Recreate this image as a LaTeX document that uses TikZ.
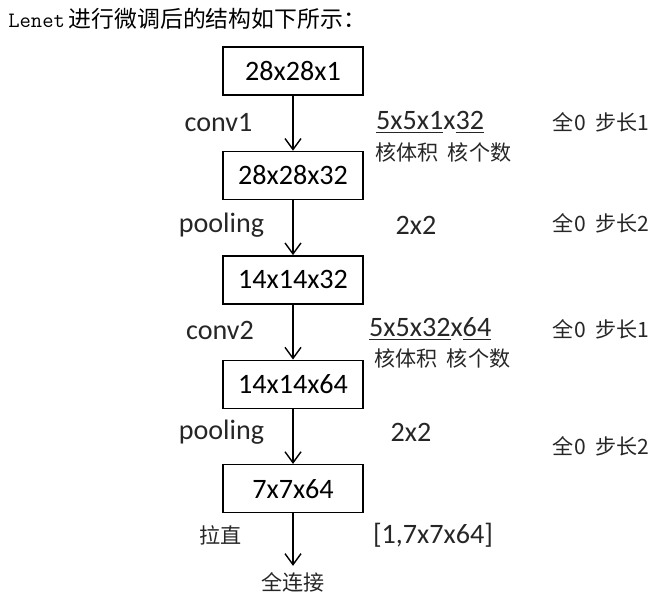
\documentclass[tikz,border=0pt]{standalone}
\usepackage{fontspec}
\setmainfont{Carlito}
\newfontfamily\cjk{Noto Sans CJK SC}
\usetikzlibrary{arrows.meta,positioning}

\begin{document}
\begin{tikzpicture}[>={Straight Barb[length=2.2mm,width=3.2mm]},
  layer/.style={draw, line width=0.8pt, minimum width=2.8cm, minimum height=0.96cm, font=\fontsize{16}{19}\selectfont},
  op/.style={font=\fontsize{16}{19}\selectfont, text=black!85},
  note/.style={font=\cjk\fontsize{12}{14}\selectfont, text=black!85},
  flow/.style={->, line width=0.8pt}]
  \useasboundingbox (0,0) rectangle (13.32,-12.06);

  \node[anchor=west, inner sep=0pt] (title) at (0.16,-0.38)
    {{\ttfamily\fontsize{12.5}{14}\selectfont Lenet} {\cjk\fontsize{13}{15}\selectfont 进行微调后的结构如下所示：}};

  % layers
  \node[layer] (in1) at (5.86,-1.42) {28x28x1};
  \node[layer, below=1.1cm of in1] (c1) {28x28x32};
  \node[layer, below=1.1cm of c1] (p1) {14x14x32};
  \node[layer, below=1.1cm of p1] (c2) {14x14x64};
  \node[layer, below=1.1cm of c2] (p2) {7x7x64};
  \node[note, below=1.05cm of p2] (fc) {全连接};

  \draw[flow] (in1) -- (c1);
  \draw[flow] (c1) -- (p1);
  \draw[flow] (p1) -- (c2);
  \draw[flow] (c2) -- (p2);
  \draw[flow] (p2) -- (fc);

  % operations on the left
  \node[op] (conv1) at (4.37,-2.46) {conv1};
  \node[op] (pool1) at (4.43,-4.50) {pooling};
  \node[op] (conv2) at (4.40,-6.60) {conv2};
  \node[op] (pool2) at (4.43,-8.64) {pooling};
  \node[note] (flat) at (4.41,-10.70) {拉直};

  % kernels
  \node[op, anchor=west] (k1) at (7.40,-2.44) {\underline{5x5x1}x\underline{32}};
  \node[note, anchor=west] (k1sub) at (7.38,-3.04) {核体积\ \ 核个数};
  \node[op] (w1) at (8.32,-4.50) {2x2};
  \node[op, anchor=west] (k2) at (7.26,-6.58) {\underline{5x5x32}x\underline{64}};
  \node[note, anchor=west] (k2sub) at (7.36,-7.16) {核体积\ \ 核个数};
  \node[op] (w2) at (8.22,-8.64) {2x2};
  \node[op] (vec) at (8.66,-10.70) {[1,7x7x64]};

  % padding and stride
  \node[note] (s1) at (12.02,-2.44) {全0\ \ 步长1};
  \node[note] (s2) at (12.02,-4.46) {全0\ \ 步长2};
  \node[note] (s3) at (12.02,-6.58) {全0\ \ 步长1};
  \node[note] (s4) at (12.02,-8.92) {全0\ \ 步长2};
\end{tikzpicture}
\end{document}
